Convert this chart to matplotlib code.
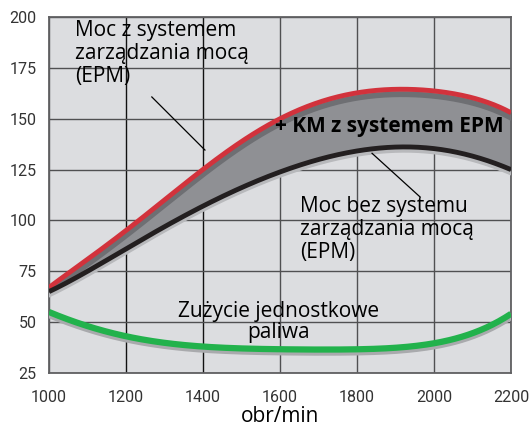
import numpy as np
import matplotlib.pyplot as plt

# values
rpm = [1000, 1100, 1200, 1300, 1400, 1500, 1600, 1700, 1800, 1900, 2000, 2100, 2200]
moc_epm = [67, 81, 95, 110, 125, 139, 150, 158, 162.5, 164.5, 164, 160, 153]
moc_bez = [65, 75, 86, 97, 107, 116, 124, 130, 134, 136, 135.5, 131.5, 125]
zuzycie = [55, 48, 43, 40, 38, 37, 36.5, 36.5, 37, 37.5, 39, 45, 54]

x_ticks = [1000, 1200, 1400, 1600, 1800, 2000, 2200]
y_ticks = [25, 50, 75, 100, 125, 150, 175, 200]

plt.rcParams['font.family'] = ['Open Sans', 'DejaVu Sans']

fig = plt.figure(figsize=(5.3, 4.33), dpi=100)
ax = fig.add_axes([0.0925, 0.1386, 0.8717, 0.8221])
ax.set_facecolor('#dcdde0')

# smooth the read points for drawing
xs = np.linspace(1000, 2200, 300)
def smooth(vals):
    c = np.polyfit(rpm, vals, 6)
    return np.polyval(c, xs)

red = smooth(moc_epm)
black = smooth(moc_bez)
green = smooth(zuzycie)

ax.fill_between(xs, black, red, color='#8f9094', zorder=2)
ax.plot(xs, red - 2.5, color='#6e6f73', lw=4, zorder=3)
ax.plot(xs, red, color='#d2323c', lw=3.5, zorder=4, solid_capstyle='butt')
ax.plot(xs, black - 1.8, color='#b8b9bc', lw=3, zorder=3)
ax.plot(xs, black, color='#231f20', lw=3.5, zorder=4, solid_capstyle='butt')
ax.plot(xs, green - 1.5, color='#a9aaad', lw=4.5, zorder=3)
ax.plot(xs, green, color='#22b24c', lw=4.5, zorder=4, solid_capstyle='butt')

ax.set_xlim(1000, 2200)
ax.set_ylim(25, 200)
ax.set_xticks(x_ticks)
ax.set_yticks(y_ticks)
ax.grid(True, color='#505052', lw=1.0, zorder=1)
for gl in ax.get_xgridlines()[1:3]:
    gl.set_color('#111111')
ax.set_axisbelow(True)
for s in ax.spines.values():
    s.set_color('#606062')
    s.set_linewidth(1.3)
ax.tick_params(length=0, labelsize=11.5, labelcolor='#333333')
ax.tick_params(axis='x', pad=12)
ax.tick_params(axis='y', pad=9)
for lab in ax.get_xticklabels() + ax.get_yticklabels():
    lab.set_family('Roboto')
ax.set_xlabel('obr/min', fontsize=15, color='#000000', labelpad=1)

ax.text(1067, 198.5, 'Moc z systemem\nzarządzania mocą\n(EPM)', fontsize=15,
        va='top', ha='left', linespacing=1.12, color='#000000', zorder=5)
ax.plot([1267, 1405], [160.7, 134.6], color='#000000', lw=0.9, zorder=5)

ax.text(1883, 146, '+ KM z systemem EPM', fontsize=15, fontweight='bold',
        va='center', ha='center', color='#000000', zorder=5)

ax.text(1652, 112, 'Moc bez systemu\nzarządzania mocą\n(EPM)', fontsize=15,
        va='top', ha='left', linespacing=1.12, color='#000000', zorder=5)
ax.plot([1839, 1964], [133, 111.5], color='#000000', lw=0.9, zorder=5)

ax.text(1595, 42, 'Zużycie jednostkowe\npaliwa', fontsize=15,
        va='baseline', ha='center', linespacing=1.05, color='#000000', zorder=5)

fig.savefig('out.png', dpi=100)
